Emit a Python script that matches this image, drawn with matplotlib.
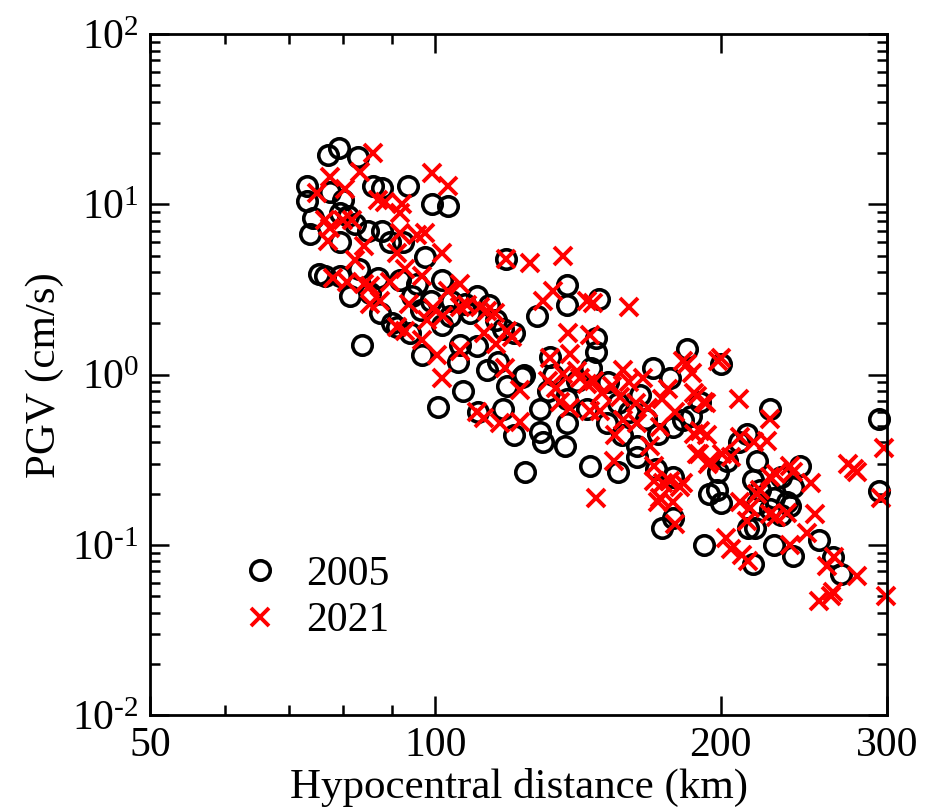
import math
import matplotlib
matplotlib.use("Agg")
import matplotlib.pyplot as plt
from matplotlib.ticker import FixedLocator, FuncFormatter, LogLocator, NullFormatter

plt.rcParams['font.family'] = ['Liberation Serif', 'DejaVu Serif']
plt.rcParams['mathtext.fontset'] = 'custom'
plt.rcParams['mathtext.rm'] = 'Liberation Serif'
plt.rcParams['axes.unicode_minus'] = False

# 2005 event (circles)
dist_2005 = [77.0, 79.2, 82.9, 73.3, 73.2, 77.4, 74.3, 73.8, 80.0, 86.0, 87.9, 93.6, 99.3, 103.2,
             79.4, 80.9, 82.3, 79.4, 85.0, 87.9, 89.6, 92.5, 97.6, 75.3, 76.5, 79.4, 83.0, 86.9,
             91.8, 95.7, 101.7, 110.8, 83.7, 87.5, 91.2, 94.1, 96.9, 101.7, 105.6, 106.3, 110.8,
             113.5, 107.0, 100.6, 111.0, 81.3, 96.6, 103.7, 108.9, 99.0, 114.0, 118.8, 137.8,
             137.8, 128.0, 149.0, 147.9, 147.9, 132.3, 118.0, 118.9, 123.6, 133.2, 131.4, 129.1,
             137.8, 144.6, 137.8, 129.1, 130.0, 137.2, 117.9, 121.1, 151.9, 157.6, 163.3, 164.6,
             169.6, 177.1, 184.5, 182.7, 178.0, 116.4, 124.3, 145.8, 155.8, 163.3, 171.0, 178.0,
             173.6, 178.0, 200.0, 190.5, 225.8, 213.5, 209.0, 203.2, 218.8, 199.0, 194.5, 200.0,
             198.3, 216.3, 220.4, 218.7, 213.8, 217.4, 231.4, 228.0, 235.3, 242.9, 238.7, 231.4,
             228.0, 238.7, 216.5, 192.0, 253.8, 263.0, 267.8, 293.7, 293.7, 225.8, 237.0,
             141.0, 146.0, 152.0, 156.0, 160.0, 167.0, 172.0, 186.0, 85.4, 94.5, 104.0, 107.5,
             116.0, 121.0, 124.0, 90.0]
pgv_2005 = [19.5, 21.3, 19.1, 12.9, 10.5, 11.8, 8.3, 6.7, 10.6, 12.9, 12.5, 12.9, 10.1, 9.8,
            8.9, 8.6, 7.7, 6.0, 7.0, 7.0, 6.0, 6.0, 4.9, 3.9, 3.8, 3.8, 4.2, 3.7,
            3.6, 3.4, 3.6, 2.9, 1.5, 2.3, 1.9, 1.75, 1.3, 1.97, 1.18, 1.5, 1.48,
            1.06, 0.80, 0.65, 0.60, 2.9, 2.4, 2.2, 2.3, 2.7, 2.55, 4.8, 3.35,
            2.56, 2.2, 2.8, 1.65, 1.35, 1.27, 1.85, 0.86, 0.97, 0.99, 0.80, 0.63,
            0.72, 0.63, 0.52, 0.46, 0.40, 0.38, 0.63, 0.44, 0.52, 0.44, 0.38, 0.76,
            1.09, 0.95, 1.42, 0.54, 0.49, 1.19, 0.27, 0.29, 0.27, 0.33, 0.28, 0.25,
            0.126, 0.145, 1.16, 0.69, 0.63, 0.45, 0.40, 0.31, 0.31, 0.27, 0.20, 0.177,
            0.21, 0.24, 0.21, 0.175, 0.126, 0.126, 0.25, 0.19, 0.18, 0.29, 0.22, 0.15,
            0.10, 0.086, 0.077, 0.10, 0.107, 0.085, 0.068, 0.55, 0.208, 0.163, 0.17,
            0.92, 1.1, 0.9, 0.68, 0.6, 0.55, 0.45, 0.57, 3.0, 2.9, 2.7, 2.6,
            2.1, 1.75, 1.0, 2.0]

# 2021 event (crosses)
dist_2021 = [86.0, 77.5, 83.3, 99.3, 103.2, 75.0, 80.3, 86.9, 88.5, 92.2, 91.8, 76.5, 77.5, 80.0,
             81.7, 77.0, 84.0, 91.8, 97.6, 95.7, 91.2, 101.7, 82.3, 78.0, 80.7, 84.0, 93.0, 96.9,
             89.6, 106.3, 85.4, 87.5, 93.8, 99.5, 103.2, 108.1, 106.3, 111.6, 91.2, 93.0, 96.9,
             100.3, 101.7, 106.3, 110.8, 112.6, 115.5, 113.5, 102.0, 98.0, 118.8, 126.0, 136.5,
             133.0, 129.9, 144.7, 146.6, 160.0, 138.0, 145.8, 118.9, 120.5, 116.0, 118.6, 123.0,
             132.3, 138.8, 136.5, 131.4, 134.0, 135.5, 138.8, 142.3, 144.6, 147.2, 153.7, 157.9,
             165.8, 156.8, 167.5, 173.6, 184.5, 187.3, 192.0, 200.0, 145.8, 149.4, 157.9, 154.6,
             163.3, 172.8, 168.7, 170.3, 177.1, 181.4, 172.8, 187.3, 189.0, 194.0, 123.0, 117.0,
             112.6, 147.9, 154.3, 170.3, 174.0, 171.9, 178.0, 179.0, 182.7, 186.8, 189.0, 193.0,
             209.0, 190.5, 193.6, 225.8, 209.9, 216.7, 224.0, 189.6, 195.0, 200.9, 205.0, 228.7,
             238.7, 248.9, 182.7, 209.9, 215.0, 213.5, 220.4, 225.8, 235.3, 251.4, 247.0, 202.5,
             205.0, 210.8, 213.9, 237.0, 263.3, 259.3, 279.0, 262.6, 253.8, 261.3, 272.4, 276.5,
             278.9, 297.4, 295.2, 299.0, 199.0, 237.0, 218.7, 225.8, 228.7, 85.4, 141.0, 150.0,
             160.0, 163.0, 176.0, 179.0]
pgv_2021 = [20.0, 14.4, 15.4, 15.2, 12.9, 11.6, 12.3, 10.6, 10.3, 10.1, 8.9, 8.05, 7.3, 8.05,
            8.05, 6.1, 5.7, 6.8, 6.8, 6.6, 5.2, 5.2, 4.7, 3.7, 3.5, 3.4, 4.2, 3.8,
            3.5, 3.4, 3.3, 2.7, 2.6, 2.45, 3.1, 2.56, 2.5, 2.5, 1.9, 1.8, 1.6,
            1.3, 0.95, 1.38, 0.60, 1.76, 2.3, 2.38, 2.2, 2.1, 4.8, 4.5, 5.0,
            3.1, 2.7, 2.7, 2.65, 2.5, 1.75, 1.72, 1.81, 1.66, 1.52, 1.10, 0.81,
            1.26, 1.33, 1.01, 0.92, 0.84, 0.69, 0.64, 0.96, 0.88, 0.92, 0.86, 1.06,
            0.96, 0.74, 0.64, 0.72, 1.15, 0.78, 0.69, 1.25, 0.61, 0.61, 0.54, 0.44,
            0.52, 0.49, 0.38, 0.238, 0.238, 0.22, 0.19, 0.45, 0.34, 0.30, 0.53, 0.52,
            0.56, 0.19, 0.31, 0.29, 0.23, 0.18, 0.18, 0.133, 1.21, 1.02, 0.75, 0.68,
            0.72, 0.47, 0.44, 0.55, 0.43, 0.40, 0.41, 0.34, 0.31, 0.34, 0.33, 0.26,
            0.27, 0.23, 0.23, 0.18, 0.165, 0.138, 0.21, 0.153, 0.155, 0.153, 0.117, 0.11,
            0.095, 0.087, 0.08, 0.10, 0.085, 0.075, 0.066, 0.053, 0.047, 0.05, 0.30, 0.28,
            0.27, 0.37, 0.19, 0.05, 1.2, 0.29, 0.20, 0.25, 0.146, 2.6, 1.05, 0.78,
            0.9, 0.68, 0.82, 0.6]

x_major = [50, 100, 200, 300]
x_minor = [60, 70, 80, 90]


def pow10(v, p):
    e = round(math.log10(v))
    sign = '\u2010' if e < 0 else ''
    return r'$\mathregular{10^{%s%d}}$' % (sign, abs(e))


fig = plt.figure(figsize=(9.38, 8.11), dpi=100)
ax = fig.add_axes([0.160, 0.118, 0.786, 0.840])

ax.plot(dist_2005, pgv_2005, 'o', ms=14, mfc='none', mec='black', mew=2.6,
        label='2005', clip_on=False)
ax.plot(dist_2021, pgv_2021, 'x', ms=13, color='red', mew=2.8,
        label='2021', clip_on=False)

ax.set_xscale('log')
ax.set_yscale('log')
ax.set_xlim(50, 300)
ax.set_ylim(0.01, 100)

ax.xaxis.set_major_locator(FixedLocator(x_major))
ax.xaxis.set_minor_locator(FixedLocator(x_minor))
ax.xaxis.set_major_formatter(FuncFormatter(lambda v, p: '%d' % v))
ax.xaxis.set_minor_formatter(NullFormatter())
ax.yaxis.set_major_locator(LogLocator(base=10, numticks=10))
ax.yaxis.set_minor_locator(LogLocator(base=10, subs=range(2, 10), numticks=20))
ax.yaxis.set_major_formatter(FuncFormatter(pow10))
ax.yaxis.set_minor_formatter(NullFormatter())

ax.tick_params(which='both', direction='in', top=True, right=True, width=1.8,
               labelsize=30, pad=8)
ax.tick_params(which='major', length=14)
ax.tick_params(which='minor', length=7)
for s in ax.spines.values():
    s.set_linewidth(2.0)

ax.set_xlabel('Hypocentral distance (km)', fontsize=31, labelpad=2)
ax.set_ylabel('PGV (cm/s)', fontsize=31, labelpad=6)

ax.legend(loc='lower left', bbox_to_anchor=(0.07, 0.055), frameon=False, fontsize=30,
          handlelength=1.0, handletextpad=0.6, labelspacing=0.2)

fig.savefig('out.png', dpi=100)
